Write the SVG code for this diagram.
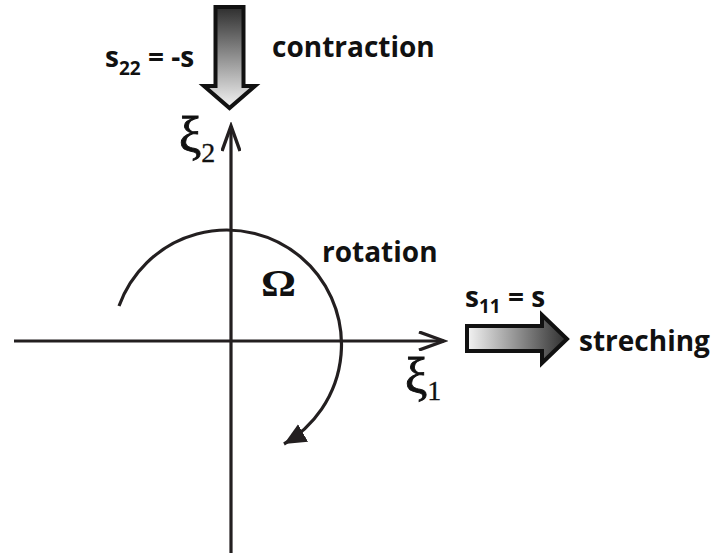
<svg xmlns="http://www.w3.org/2000/svg" width="713" height="558" viewBox="0 0 713 558">
<style>
.lbl{font-family:"Open Sans","Liberation Sans",sans-serif;font-weight:700;font-size:28px;fill:#111}
.sym{font-family:"Liberation Serif","DejaVu Serif",serif;fill:#111}
.xi{stroke:#111;stroke-width:0.9}
.ax{stroke:#231f20;stroke-width:3.2;fill:none}
.big{stroke:#111;stroke-width:4;stroke-linejoin:miter}
</style>
<defs>
<linearGradient id="gDown" x1="0" y1="0" x2="0" y2="1">
<stop offset="0" stop-color="#2e2e2e"/>
<stop offset="1" stop-color="#f4f4f4"/>
</linearGradient>
<linearGradient id="gRight" x1="0" y1="0" x2="1" y2="0">
<stop offset="0" stop-color="#f4f4f4"/>
<stop offset="1" stop-color="#2e2e2e"/>
</linearGradient>
<marker id="open" viewBox="0 0 30 20" refX="26" refY="10" markerWidth="30" markerHeight="20" markerUnits="userSpaceOnUse" orient="auto">
<path d="M1,1 L26,10 L1,19" fill="none" stroke="#231f20" stroke-width="3.4"/>
</marker>
<marker id="solid" viewBox="0 0 24 24" refX="22" refY="12" markerWidth="24" markerHeight="24" markerUnits="userSpaceOnUse" orient="auto">
<path d="M0,2 L22,12 L0,22 Z" fill="#231f20"/>
</marker>
</defs>
<g id="connectors">
<line id="axis-xi1" class="ax" x1="14" y1="341" x2="444" y2="341" marker-end="url(#open)"/>
<line id="axis-xi2" class="ax" x1="231" y1="553" x2="231" y2="126" marker-end="url(#open)"/>
<path id="rotation-arc" class="ax" d="M119,306 A114.6,114.6 0 1 1 284,444" marker-end="url(#solid)"/>
</g>
<g id="contraction-arrow">
<polygon class="big" fill="url(#gDown)" points="215.5,7 243.5,7 243.5,86 255,86 229.5,108 204,86 215.5,86"/>
</g>
<g id="streching-arrow">
<polygon class="big" fill="url(#gRight)" points="467,326 542,326 542,315 567,339 542,363 542,351 467,351"/>
</g>
<g id="labels">
<text class="lbl" x="105" y="67">s<tspan font-size="19" dy="8">22</tspan><tspan dy="-8"> = -s</tspan></text>
<text class="lbl" x="272" y="57">contraction</text>
<text class="lbl" x="322" y="262">rotation</text>
<text class="lbl" x="465" y="307">s<tspan font-size="19" dy="6">11</tspan><tspan dy="-6"> = s</tspan></text>
<text class="lbl" x="579" y="351">streching</text>
<text class="sym" font-weight="700" font-size="38" transform="translate(261,296) scale(1.15,1)">Ω</text>
<text class="sym xi" font-size="50" x="179" y="152">ξ<tspan font-size="28" dy="10" stroke-width="0.3">2</tspan></text>
<text class="sym xi" font-size="50" x="405" y="393">ξ<tspan font-size="28" dy="7" stroke-width="0.3">1</tspan></text>
</g>
</svg>
